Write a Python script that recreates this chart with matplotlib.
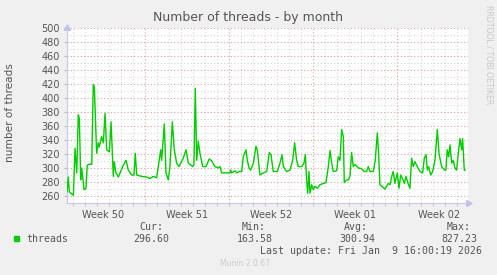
import matplotlib
matplotlib.use("Agg")
import matplotlib.pyplot as plt
import numpy as np

# days since Sun 2025-12-14 00:00
days = [-6.5, -6.39, -6.31, -5.97, -5.83, -5.69, -5.56, -5.47, -5.36, -5.27,
        -5.08, -4.92, -4.81, -4.53, -4.44, -4.31, -4.22, -4.03, -3.89, -3.81,
        -3.61, -3.47, -3.33, -3.19, -2.97, -2.83, -2.64, -2.56, -2.42, -2.22,
        -1.81, -1.58, -1.39, -1.11, -0.92, -0.81, -0.69, -0.28, 0.14, 0.42,
        0.69, 0.97, 1.11, 1.31, 1.39, 1.61, 1.75, 1.94, 2.08, 2.28,
        2.44, 2.64, 2.83, 3.19, 3.42, 3.61, 3.97, 4.08, 4.19, 4.31,
        4.44, 4.58, 4.81, 5.08, 5.36, 5.56, 5.83, 6.11, 6.25, 6.39,
        7.08, 7.14, 7.22, 7.5, 7.64, 7.86, 8.06, 8.19, 8.42, 8.53,
        8.67, 8.81, 9.03, 9.25, 9.36, 9.58, 9.86, 10.14, 10.36, 10.5,
        10.69, 11.03, 11.25, 11.42, 11.53, 11.81, 12.08, 12.31, 12.47, 12.64,
        12.78, 13.06, 13.25, 13.36, 13.47, 13.56, 13.67, 13.75, 13.89, 14.03,
        14.17, 14.36, 14.58, 14.86, 15.08, 15.28, 15.42, 15.56, 15.69, 15.97,
        16.11, 16.25, 16.39, 16.53, 16.61, 16.81, 16.94, 17.08, 17.22, 17.36,
        17.5, 17.78, 18.06, 18.25, 18.47, 18.61, 18.75, 19.03, 19.19, 19.36,
        19.47, 19.58, 19.72, 20.0, 20.14, 20.28, 20.42, 20.56, 20.69, 20.83,
        21.03, 21.17, 21.31, 21.47, 21.61, 21.75, 21.92, 22.08, 22.22, 22.36,
        22.5, 22.69, 22.92, 23.14, 23.28, 23.42, 23.53, 23.64, 23.81, 23.97,
        24.17, 24.36, 24.5, 24.72, 24.97, 25.08, 25.19, 25.31, 25.42, 25.56,
        25.69, 25.83, 25.97, 26.11, 26.25, 26.39, 26.47, 26.61, 26.69]
threads = [266, 287, 266, 261, 328, 293, 376, 371, 283, 300,
           269, 271, 304, 306, 305, 419, 416, 321, 336, 330,
           345, 336, 378, 326, 323, 366, 288, 309, 293, 287,
           304, 311, 297, 290, 290, 321, 290, 288, 287, 285,
           288, 286, 302, 326, 311, 363, 293, 283, 302, 366,
           326, 307, 302, 314, 326, 307, 302, 305, 414, 311,
           338, 321, 302, 302, 313, 310, 302, 300, 302, 293,
           293, 297, 293, 296, 293, 295, 295, 316, 326, 311,
           300, 297, 307, 331, 326, 290, 293, 295, 322, 319,
           295, 295, 307, 319, 302, 295, 297, 311, 336, 311,
           302, 302, 307, 319, 283, 264, 295, 264, 276, 269,
           274, 271, 276, 278, 279, 302, 325, 307, 295, 296,
           316, 311, 355, 345, 279, 283, 283, 288, 322, 302,
           305, 300, 299, 295, 295, 302, 295, 295, 311, 350,
           321, 276, 274, 270, 274, 278, 276, 288, 295, 278,
           293, 271, 290, 285, 278, 288, 278, 271, 314, 302,
           309, 302, 295, 293, 314, 319, 297, 302, 290, 295,
           311, 355, 321, 302, 297, 297, 326, 316, 333, 307,
           311, 300, 297, 321, 342, 326, 342, 297, 297]

y_ticks = list(range(260, 501, 20))
week_pos = [-3.5, 3.5, 10.5, 17.5, 24.5]
week_labels = ["Week 50", "Week 51", "Week 52", "Week 01", "Week 02"]
legend_name = "threads"
cur, vmin, avg, vmax = "296.60", "163.58", "300.94", "827.23"
last_update = "Last update: Fri Jan  9 16:00:19 2026"

W, H = 497, 275
fig = plt.figure(figsize=(W / 100, H / 100), dpi=100, facecolor="#F0F0F0")
L, R, T, B = 67, 468, 28, 203
ax = fig.add_axes([L / W, 1 - B / H, (R - L) / W, (B - T) / H])
ax.set_facecolor("white")
xmin, xmax = -6.5, 26.92
ax.set_xlim(xmin, xmax)
ax.set_ylim(250, 500)

# grid
for d in range(-6, 27):
    major = (d % 7 == 0)
    ax.axvline(d, color="#E0A0A0" if major else "#D8D8D8", lw=0.8,
               ls=(0, (1, 2)), zorder=1)
for v in range(260, 501, 10):
    major = (v % 20 == 0)
    ax.axhline(v, color="#E0A0A0" if major else "#D8D8D8", lw=0.8,
               ls=(0, (1, 2)), zorder=1)

ax.plot(days, threads, color="#00CC00", lw=1.0, zorder=3)

for s in ["top", "right"]:
    ax.spines[s].set_visible(False)
for s in ["left", "bottom"]:
    ax.spines[s].set_color("#C8C8F0")
    ax.spines[s].set_linewidth(0.8)

# arrows
ax.plot([1.0], [0.0], marker=(3, 0, -90), color="#C0C0F0", ms=5,
        transform=ax.transAxes, clip_on=False)
ax.plot([0.0], [1.0], marker=(3, 0, 0), color="#C0C0F0", ms=5,
        transform=ax.transAxes, clip_on=False)

ax.set_yticks(y_ticks)
ax.set_yticklabels([str(v) for v in y_ticks])
ax.set_xticks(week_pos)
ax.set_xticklabels(week_labels)
ax.set_xticks(range(-6, 27), minor=True)
ax.tick_params(axis="x", which="major", length=0, pad=5, labelsize=7, colors="#555555")
ax.tick_params(axis="x", which="minor", length=2, color="#BBBBBB")
ax.tick_params(axis="y", length=2, color="#BBBBBB", pad=3, labelsize=7,
               labelcolor="#555555")

fig.text(248 / W, 1 - 18 / H, "Number of threads - by month", ha="center",
         va="center", fontsize=9, color="#555555")
fig.text(10 / W, 1 - 113 / H, "number of threads", rotation=90, ha="center",
         va="center", fontsize=7.6, color="#555555")
fig.text(489 / W, 1 - 5 / H, "RRDTOOL / TOBI OETIKER", rotation=-90, ha="center",
         va="top", fontsize=5.6, color="#C8C8C8")

mono = dict(family="DejaVu Sans Mono", fontsize=7.1, color="#555555")
fig.patches.append(plt.Rectangle((14 / W, 1 - 241 / H), 5 / W, 5 / H,
                                 transform=fig.transFigure, color="#00CC00"))
fig.text(26 / W, 1 - 239 / H, legend_name, ha="left", va="center", **mono)
hy, vy = 227.5, 239
for hdr, val, hx, vx in [("Cur:", cur, 163, 169), ("Min:", vmin, 266, 273),
                         ("Avg:", avg, 368, 375), ("Max:", vmax, 471, 477)]:
    fig.text(hx / W, 1 - hy / H, hdr, ha="right", va="center", **mono)
    fig.text(vx / W, 1 - vy / H, val, ha="right", va="center", **mono)
fig.text(482 / W, 1 - 251 / H, last_update, ha="right", va="center", **mono)
fig.text(245 / W, 1 - 264 / H, "Munin 2.0.67", ha="center", va="center",
         fontsize=5.5, color="#CCCCCC")

fig.savefig("out.png", dpi=100, facecolor=fig.get_facecolor())
